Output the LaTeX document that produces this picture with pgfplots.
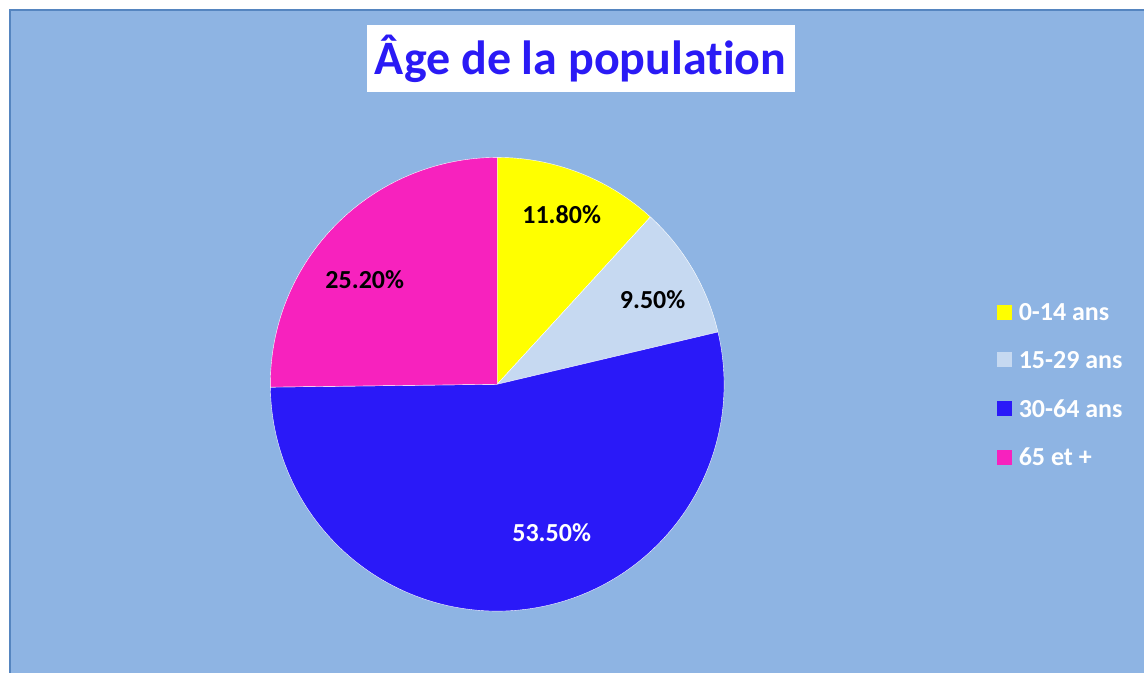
\documentclass[border=0pt]{standalone}
\usepackage{pgfplots}
\pgfplotsset{compat=1.18}
\usepackage{pgfplotstable}
\usepackage{fontspec}
\setmainfont[Ligatures=NoCommon]{Carlito}
\definecolor{bg}{HTML}{8EB4E3}
\definecolor{frame}{HTML}{5585C0}
\definecolor{cYel}{HTML}{FFFF00}
\definecolor{cLight}{HTML}{C6D9F1}
\definecolor{cBlue}{HTML}{2A19F8}
\definecolor{cMag}{HTML}{F722BE}
\definecolor{titleblue}{HTML}{2A1AF5}
\pgfplotstableread{
label pct
{0-14 ans} 11.8
{15-29 ans} 9.5
{30-64 ans} 53.5
{65 et +} 25.2
}\pietable
\newcommand\pct[1]{\pgfmathprintnumber[fixed,fixed zerofill,precision=2,assume math mode=true]{#1}\%}
\begin{document}
\begin{tikzpicture}
\pgfplotstablegetelem{0}{pct}\of\pietable \let\pA\pgfplotsretval
\pgfplotstablegetelem{1}{pct}\of\pietable \let\pB\pgfplotsretval
\pgfplotstablegetelem{2}{pct}\of\pietable \let\pC\pgfplotsretval
\pgfplotstablegetelem{3}{pct}\of\pietable \let\pD\pgfplotsretval
\pgfplotstablegetelem{0}{label}\of\pietable \let\lA\pgfplotsretval
\pgfplotstablegetelem{1}{label}\of\pietable \let\lB\pgfplotsretval
\pgfplotstablegetelem{2}{label}\of\pietable \let\lC\pgfplotsretval
\pgfplotstablegetelem{3}{label}\of\pietable \let\lD\pgfplotsretval
\pgfmathsetmacro\aZ{90}
\pgfmathsetmacro\aA{\aZ-3.6*\pA}
\pgfmathsetmacro\aB{\aA-3.6*\pB}
\pgfmathsetmacro\aC{\aB-3.6*\pC}
\pgfmathsetmacro\aD{\aC-3.6*\pD}
\def\R{113.5pt}
\begin{axis}[x=0.5pt, y=0.5pt, xmin=0, xmax=1145, ymin=0, ymax=673,
  y dir=reverse, hide axis, clip=false, scale only axis]
\fill[white] (axis cs:0,0) rectangle (axis cs:1145,673);
\fill[bg] (axis cs:10,10) rectangle (axis cs:1145,673);
\draw[frame, line width=0.7pt] (axis cs:10,673) -- (axis cs:10,10) -- (axis cs:1145,10);
\node[fill=white, minimum width=214pt, minimum height=33.5pt, inner sep=0pt,
  text=titleblue, font=\bfseries\fontsize{24}{28}\selectfont] at (axis cs:581,58.5) {Âge de la population};
% pie
\filldraw[fill=cYel, draw=white, line width=0.2pt] (axis cs:497.5,384.5) -- ++(\aZ:\R) arc[start angle=\aZ, end angle=\aA, radius=\R] -- cycle;
\filldraw[fill=cLight, draw=white, line width=0.2pt] (axis cs:497.5,384.5) -- ++(\aA:\R) arc[start angle=\aA, end angle=\aB, radius=\R] -- cycle;
\filldraw[fill=cBlue, draw=white, line width=0.2pt] (axis cs:497.5,384.5) -- ++(\aB:\R) arc[start angle=\aB, end angle=\aC, radius=\R] -- cycle;
\filldraw[fill=cMag, draw=white, line width=0.2pt] (axis cs:497.5,384.5) -- ++(\aC:\R) arc[start angle=\aC, end angle=\aD, radius=\R] -- cycle;
% labels
\node[font=\bfseries\fontsize{13}{15}\selectfont, text=black] at (axis cs:562,215) {\pct{\pA}};
\node[font=\bfseries\fontsize{13}{15}\selectfont, text=black] at (axis cs:653,300) {\pct{\pB}};
\node[font=\bfseries\fontsize{13}{15}\selectfont, text=white] at (axis cs:552,533) {\pct{\pC}};
\node[font=\bfseries\fontsize{13}{15}\selectfont, text=black] at (axis cs:365,280) {\pct{\pD}};
% legend
\fill[cYel] (axis cs:998,305) rectangle (axis cs:1013,320);
\fill[cLight] (axis cs:998,352.5) rectangle (axis cs:1013,367.5);
\fill[cBlue] (axis cs:998,401) rectangle (axis cs:1013,416);
\fill[cMag] (axis cs:998,450) rectangle (axis cs:1013,465);
\node[anchor=west, inner sep=0pt, text=white, font=\bfseries\fontsize{13}{15}\selectfont] at (axis cs:1019,312.5) {\lA};
\node[anchor=west, inner sep=0pt, text=white, font=\bfseries\fontsize{13}{15}\selectfont] at (axis cs:1019,360) {\lB};
\node[anchor=west, inner sep=0pt, text=white, font=\bfseries\fontsize{13}{15}\selectfont] at (axis cs:1019,408.5) {\lC};
\node[anchor=west, inner sep=0pt, text=white, font=\bfseries\fontsize{13}{15}\selectfont] at (axis cs:1019,457.5) {\lD};
\end{axis}
\end{tikzpicture}
\end{document}
